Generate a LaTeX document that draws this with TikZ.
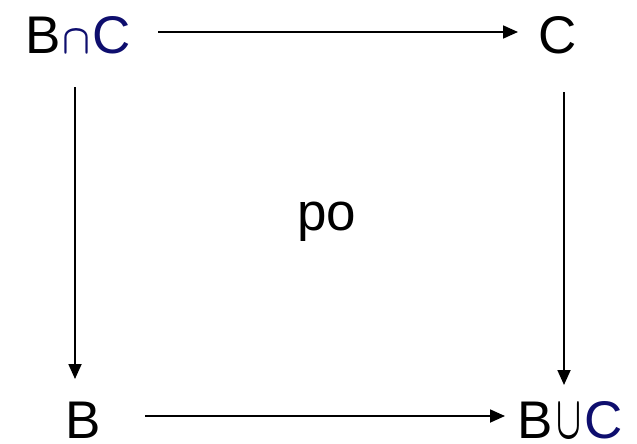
\documentclass[tikz,border=0pt]{standalone}
\usepackage{fontspec}
\setmainfont{Liberation Sans}
\usetikzlibrary{arrows.meta}
\definecolor{navy}{RGB}{14,14,110}
\tikzset{
  lbl/.style={inner sep=0pt, anchor=base, font=\fontsize{53}{60}\selectfont},
  arr/.style={line width=1.8pt, -{Triangle[length=15pt,width=13pt]}}
}
\begin{document}
\begin{tikzpicture}[x=1pt,y=-1pt]
\useasboundingbox (0,0) rectangle (637,444);
\node[lbl] (bc) at (78,53) {B\textcolor{navy}{\hspace{2pt}\resizebox{28pt}{23pt}{\boldmath$\cap$}\hspace{2pt}C}};
\node[lbl] (c) at (558,53) {C};
\node[lbl] (b) at (83,438) {B};
\node[lbl] (buc) at (570,438) {B\hspace{3pt}\resizebox{25pt}{34pt}{\boldmath$\cup$}\hspace{3pt}\textcolor{navy}{C}};
\node[lbl] (po) at (327,230) {po};
\draw[arr] ([xshift=80pt,yshift=21pt]bc.base) -- ([xshift=-40pt,yshift=21pt]c.base);
\draw[arr] ([xshift=-3pt,yshift=-34pt]bc.base) -- ([xshift=-8pt,yshift=59pt]b.base);
\draw[arr] ([xshift=6pt,yshift=-39pt]c.base) -- ([xshift=-6pt,yshift=53pt]buc.base);
\draw[arr] ([xshift=62pt,yshift=22pt]b.base) -- ([xshift=-65pt,yshift=22pt]buc.base);
\end{tikzpicture}
\end{document}
